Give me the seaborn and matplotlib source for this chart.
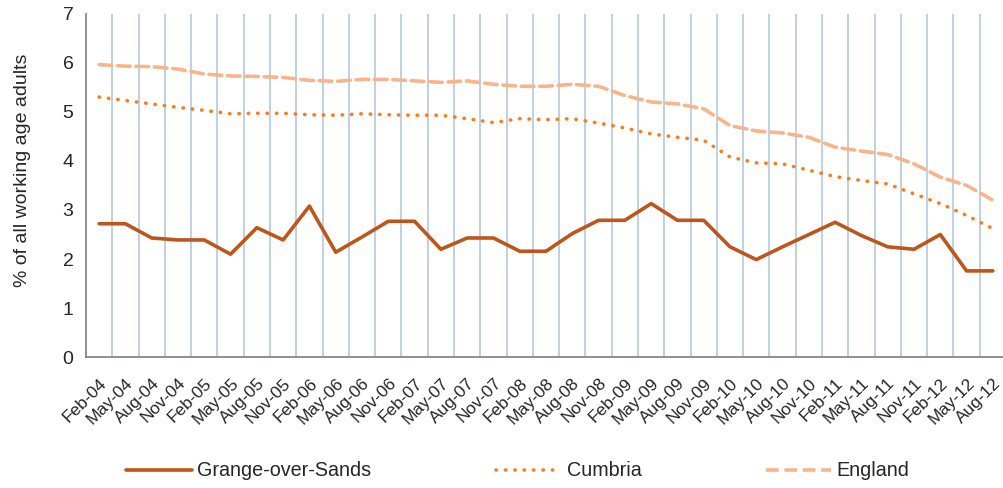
import matplotlib
matplotlib.use("Agg")
import matplotlib.pyplot as plt
import numpy as np
import pandas as pd
import seaborn as sns

quarters = [f"{m}-{y:02d}" for y in range(4, 13) for m in ("Feb", "May", "Aug", "Nov")][:35]

grange = [2.72, 2.72, 2.43, 2.39, 2.39, 2.10, 2.64, 2.39, 3.08, 2.14,
          2.45, 2.77, 2.77, 2.20, 2.43, 2.43, 2.16, 2.16, 2.52, 2.79,
          2.79, 3.13, 2.79, 2.79, 2.25, 1.99, 2.25, 2.50, 2.75, 2.48,
          2.25, 2.20, 2.50, 1.76, 1.76]
cumbria = [5.30, 5.23, 5.16, 5.09, 5.03, 4.96, 4.97, 4.97, 4.94, 4.93,
           4.96, 4.94, 4.93, 4.93, 4.86, 4.78, 4.86, 4.84, 4.86, 4.77,
           4.67, 4.55, 4.48, 4.42, 4.08, 3.96, 3.94, 3.81, 3.68, 3.60,
           3.53, 3.33, 3.13, 2.89, 2.62]
england = [5.96, 5.93, 5.92, 5.87, 5.77, 5.73, 5.72, 5.70, 5.64, 5.62,
           5.66, 5.66, 5.63, 5.60, 5.63, 5.56, 5.52, 5.52, 5.56, 5.52,
           5.33, 5.20, 5.16, 5.06, 4.72, 4.61, 4.57, 4.48, 4.28, 4.20,
           4.13, 3.94, 3.67, 3.50, 3.20]

series = {"Grange-over-Sands": grange, "Cumbria": cumbria, "England": england}
colors = {"Grange-over-Sands": "#BE561C", "Cumbria": "#F57E20", "England": "#FAB48A"}
dash_map = {"Grange-over-Sands": "", "Cumbria": (0.1, 2.5), "England": (3.5, 1.6)}

df = pd.concat(
    [pd.DataFrame({"quarter": quarters, "value": v, "area": k}) for k, v in series.items()],
    ignore_index=True,
)
df["pos"] = df["quarter"].map({q: i for i, q in enumerate(quarters)})

sns.set_style("white")
plt.rcParams["font.family"] = ["Liberation Sans", "DejaVu Sans"]

fig = plt.figure(figsize=(10.04, 4.88), dpi=100)
ax = fig.add_axes([86 / 1004, 1 - 357.3 / 488, 920 / 1004, 343.7 / 488])

n = len(quarters)
for b in np.arange(1, n + 1) - 0.5:
    ax.axvline(b, color="#B9CDE5", lw=1.3, zorder=0)

sns.lineplot(data=df, x="pos", y="value", hue="area", style="area",
             palette=colors, dashes=dash_map, linewidth=2.6, ax=ax, legend=False)
for line in ax.get_lines():
    if line.get_linestyle() != "-":
        line.set_dash_capstyle("round")

ax.set_xlim(-0.5, n - 0.5)
ax.set_ylim(0, 7)
ax.set_yticks(range(8))
ax.set_xticks(np.arange(n + 1) - 0.5)
ax.set_xticklabels([])
ax.set_xticks(np.arange(n), minor=True)
ax.set_xticklabels(quarters, minor=True, rotation=45, ha="right", rotation_mode="anchor",
                   fontsize=12.5)
ax.tick_params(axis="x", which="major", direction="out", length=6, width=1.2, color="#878787")
ax.tick_params(axis="x", which="minor", length=0, pad=13)
ax.tick_params(axis="y", direction="out", length=5, width=1.2, color="#878787", labelsize=14, pad=4)
ax.set_xlabel("")
ax.set_ylabel("% of all working age adults", fontsize=14)
ax.yaxis.set_label_coords(-0.060, 0.545)

for s in ("top", "right"):
    ax.spines[s].set_visible(False)
for s in ("left", "bottom"):
    ax.spines[s].set_color("#878787")
    ax.spines[s].set_linewidth(1.3)

handles = []
for k in series:
    ls = "-" if k == "Grange-over-Sands" else (0, dash_map[k])
    h, = ax.plot([], [], color=colors[k], lw=2.6, linestyle=ls,
                 dash_capstyle="round" if k == "Cumbria" else "butt")
    handles.append(h)
fig.legend(handles, list(series), loc="center", bbox_to_anchor=(0.516, 0.035), ncol=3,
           frameon=False, fontsize=14.2, handlelength=3.3, handletextpad=0.3,
           columnspacing=6.3)

fig.savefig("out.png", dpi=100)
